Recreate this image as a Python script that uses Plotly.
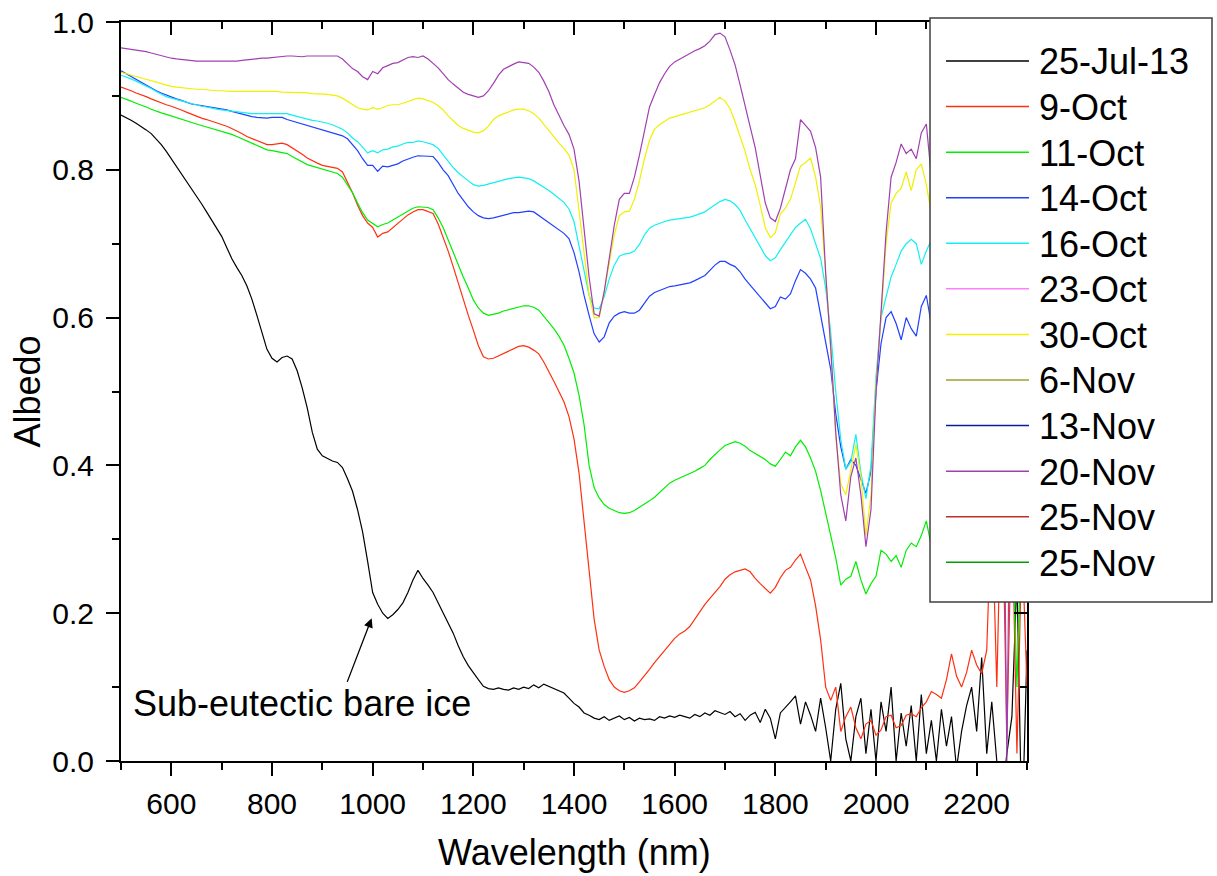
import plotly.graph_objects as go

# ---------------- data ----------------
wavelength = list(range(500, 2301, 10))  # nm

series_names = ["25-Jul-13", "9-Oct", "11-Oct", "14-Oct", "16-Oct", "23-Oct",
                "30-Oct", "6-Nov", "13-Nov", "20-Nov", "25-Nov", "25-Nov"]
series_colors = ["#000000", "#FF3010", "#00EE00", "#2040FF", "#10F0F0", "#FF80FF",
                 "#F0F000", "#A0A030", "#0A1A9A", "#A040B0", "#C0302A", "#00A000"]

alb_25jul13 = [
    0.874, 0.871, 0.867, 0.863, 0.859, 0.854, 0.849, 0.842, 0.834, 0.825,
    0.815, 0.805, 0.795, 0.784, 0.774, 0.764, 0.754, 0.743, 0.732, 0.721,
    0.710, 0.695, 0.680, 0.668, 0.657, 0.643, 0.625, 0.603, 0.580, 0.557,
    0.545, 0.540, 0.546, 0.548, 0.544, 0.528, 0.505, 0.478, 0.445, 0.422,
    0.413, 0.409, 0.406, 0.404, 0.397, 0.382, 0.365, 0.340, 0.310, 0.270,
    0.228, 0.212, 0.200, 0.193, 0.198, 0.205, 0.214, 0.228, 0.245, 0.258,
    0.247, 0.238, 0.228, 0.214, 0.200, 0.187, 0.173, 0.156, 0.141, 0.129,
    0.119, 0.110, 0.101, 0.098, 0.097, 0.099, 0.097, 0.096, 0.099, 0.097,
    0.100, 0.098, 0.103, 0.099, 0.104, 0.101, 0.097, 0.095, 0.092, 0.085,
    0.078, 0.073, 0.065, 0.062, 0.058, 0.056, 0.060, 0.055, 0.058, 0.061,
    0.056, 0.059, 0.054, 0.058, 0.056, 0.057, 0.055, 0.060, 0.058, 0.061,
    0.059, 0.062, 0.060, 0.058, 0.063, 0.060, 0.065, 0.062, 0.068, 0.066,
    0.063, 0.067, 0.060, 0.064, 0.055, 0.062, 0.066, 0.052, 0.070, 0.058,
    0.030, 0.065, 0.072, 0.080, 0.088, 0.050, 0.080, 0.062, 0.040, 0.085,
    0.045, 0.000, 0.070, 0.105, 0.030, 0.000, 0.060, 0.085, 0.010, 0.070,
    0.000, 0.080, 0.040, 0.100, 0.000, 0.065, 0.020, 0.075, 0.000, 0.090,
    0.010, 0.055, 0.000, 0.070, 0.020, 0.060, -0.010, 0.040, 0.075, 0.100,
    0.040, 0.140, 0.010, 0.080, 0.000, -0.050, 0.010, 0.060, 0.250, -0.100,
    0.150,
]

alb_9oct = [
    0.912, 0.910, 0.907, 0.904, 0.902, 0.899, 0.896, 0.893, 0.890, 0.888,
    0.886, 0.884, 0.881, 0.878, 0.875, 0.872, 0.870, 0.868, 0.866, 0.864,
    0.862, 0.859, 0.856, 0.853, 0.849, 0.845, 0.842, 0.839, 0.836, 0.834,
    0.834, 0.835, 0.836, 0.834, 0.830, 0.826, 0.821, 0.816, 0.812, 0.809,
    0.806, 0.805, 0.803, 0.802, 0.797, 0.783, 0.769, 0.752, 0.738, 0.728,
    0.722, 0.709, 0.714, 0.716, 0.722, 0.728, 0.734, 0.739, 0.743, 0.746,
    0.746, 0.744, 0.741, 0.727, 0.709, 0.690, 0.669, 0.646, 0.624, 0.603,
    0.583, 0.562, 0.547, 0.544, 0.545, 0.548, 0.551, 0.554, 0.558, 0.561,
    0.562, 0.560, 0.556, 0.551, 0.540, 0.528, 0.514, 0.500, 0.486, 0.466,
    0.436, 0.390, 0.325, 0.255, 0.192, 0.150, 0.128, 0.110, 0.100, 0.095,
    0.093, 0.095, 0.099, 0.107, 0.115, 0.124, 0.133, 0.141, 0.150, 0.158,
    0.166, 0.172, 0.176, 0.182, 0.192, 0.202, 0.212, 0.220, 0.228, 0.236,
    0.246, 0.252, 0.256, 0.258, 0.260, 0.256, 0.247, 0.240, 0.233, 0.227,
    0.235, 0.248, 0.258, 0.262, 0.272, 0.280, 0.262, 0.245, 0.210, 0.164,
    0.100, 0.082, 0.100, 0.040, 0.060, 0.073, 0.045, 0.030, 0.050, 0.055,
    0.035, 0.042, 0.060, 0.062, 0.045, 0.048, 0.062, 0.064, 0.060, 0.072,
    0.080, 0.094, 0.090, 0.085, 0.110, 0.145, 0.115, 0.100, 0.120, 0.150,
    0.130, 0.118, 0.150, 0.350, 0.100, 0.400, 0.030, 0.350, 0.010, 0.300,
    0.100,
]

alb_11oct = [
    0.898, 0.896, 0.893, 0.890, 0.888, 0.885, 0.882, 0.879, 0.877, 0.875,
    0.873, 0.871, 0.868, 0.866, 0.864, 0.862, 0.860, 0.858, 0.856, 0.855,
    0.853, 0.850, 0.848, 0.845, 0.842, 0.839, 0.836, 0.833, 0.830, 0.827,
    0.826, 0.825, 0.824, 0.822, 0.818, 0.814, 0.810, 0.807, 0.805, 0.803,
    0.800, 0.799, 0.797, 0.795, 0.790, 0.780, 0.769, 0.755, 0.742, 0.732,
    0.728, 0.723, 0.726, 0.728, 0.732, 0.736, 0.739, 0.743, 0.748, 0.750,
    0.750, 0.749, 0.746, 0.735, 0.722, 0.705, 0.687, 0.671, 0.655, 0.640,
    0.624, 0.613, 0.606, 0.603, 0.604, 0.606, 0.609, 0.611, 0.613, 0.615,
    0.616, 0.616, 0.614, 0.610, 0.602, 0.594, 0.585, 0.575, 0.563, 0.545,
    0.525, 0.495, 0.455, 0.400, 0.370, 0.356, 0.347, 0.342, 0.339, 0.336,
    0.335, 0.336, 0.339, 0.343, 0.347, 0.352, 0.357, 0.363, 0.370, 0.376,
    0.380, 0.383, 0.385, 0.388, 0.392, 0.396, 0.400, 0.408, 0.415, 0.421,
    0.427, 0.430, 0.432, 0.430, 0.426, 0.420, 0.416, 0.412, 0.408, 0.402,
    0.399, 0.408, 0.418, 0.413, 0.425, 0.434, 0.425, 0.410, 0.392, 0.366,
    0.335, 0.305, 0.275, 0.238, 0.246, 0.250, 0.270, 0.245, 0.226, 0.240,
    0.250, 0.285, 0.280, 0.270, 0.278, 0.262, 0.285, 0.295, 0.290, 0.305,
    0.325, 0.290, 0.300, 0.310, 0.300, 0.320, 0.310, 0.330, 0.320, 0.340,
    0.330, 0.350, 0.340, 0.360, 0.350, 0.330, 0.320, 0.340, 0.100, 0.330,
    0.300,
]

alb_14oct = [
    0.934, 0.930, 0.926, 0.922, 0.918, 0.914, 0.910, 0.907, 0.904, 0.901,
    0.898, 0.896, 0.894, 0.891, 0.889, 0.888, 0.887, 0.886, 0.885, 0.884,
    0.883, 0.881, 0.879, 0.877, 0.875, 0.873, 0.872, 0.871, 0.870, 0.870,
    0.871, 0.871, 0.871, 0.868, 0.866, 0.864, 0.862, 0.860, 0.858, 0.857,
    0.855, 0.853, 0.851, 0.849, 0.846, 0.842, 0.834, 0.826, 0.815, 0.806,
    0.806, 0.798, 0.805, 0.804, 0.806, 0.808, 0.812, 0.815, 0.817, 0.819,
    0.819, 0.818, 0.818, 0.810, 0.800, 0.792, 0.780, 0.768, 0.759, 0.750,
    0.743, 0.738, 0.735, 0.734, 0.735, 0.737, 0.739, 0.741, 0.742, 0.742,
    0.743, 0.744, 0.743, 0.738, 0.733, 0.728, 0.723, 0.718, 0.714, 0.707,
    0.688, 0.662, 0.630, 0.603, 0.578, 0.567, 0.574, 0.593, 0.602, 0.606,
    0.608, 0.606, 0.606, 0.610, 0.620, 0.629, 0.634, 0.637, 0.640, 0.642,
    0.643, 0.644, 0.645, 0.647, 0.650, 0.653, 0.657, 0.664, 0.671, 0.676,
    0.676, 0.672, 0.669, 0.662, 0.652, 0.644, 0.636, 0.628, 0.619, 0.612,
    0.615, 0.628, 0.625, 0.632, 0.650, 0.665, 0.660, 0.652, 0.640, 0.604,
    0.570, 0.530, 0.470, 0.425, 0.395, 0.408, 0.400, 0.382, 0.362, 0.392,
    0.500, 0.565, 0.600, 0.608, 0.592, 0.570, 0.600, 0.585, 0.575, 0.615,
    0.630, 0.590, 0.610, 0.600, 0.620, 0.630, 0.600, 0.590, 0.610, 0.600,
    0.580, 0.590, 0.570, 0.560, 0.550, 0.540, 0.520, 0.500, 0.480, 0.450,
    0.450,
]

alb_16oct = [
    0.928, 0.926, 0.923, 0.920, 0.917, 0.913, 0.910, 0.906, 0.902, 0.899,
    0.897, 0.895, 0.893, 0.891, 0.889, 0.887, 0.886, 0.885, 0.884, 0.882,
    0.881, 0.880, 0.879, 0.878, 0.877, 0.877, 0.876, 0.876, 0.876, 0.876,
    0.876, 0.877, 0.877, 0.876, 0.874, 0.872, 0.870, 0.868, 0.867, 0.866,
    0.865, 0.863, 0.861, 0.858, 0.855, 0.850, 0.843, 0.838, 0.830, 0.823,
    0.826, 0.823, 0.827, 0.828, 0.831, 0.832, 0.835, 0.837, 0.837, 0.839,
    0.838, 0.836, 0.834, 0.829, 0.820, 0.811, 0.803, 0.796, 0.790, 0.785,
    0.780, 0.778, 0.779, 0.781, 0.782, 0.784, 0.786, 0.788, 0.789, 0.790,
    0.789, 0.788, 0.785, 0.781, 0.777, 0.772, 0.767, 0.761, 0.756, 0.747,
    0.730, 0.697, 0.662, 0.630, 0.613, 0.612, 0.628, 0.652, 0.671, 0.683,
    0.686, 0.687, 0.690, 0.699, 0.712, 0.721, 0.725, 0.728, 0.730, 0.732,
    0.733, 0.733, 0.734, 0.736, 0.738, 0.740, 0.743, 0.748, 0.753, 0.757,
    0.760, 0.758, 0.753, 0.745, 0.732, 0.720, 0.708, 0.695, 0.684, 0.677,
    0.681, 0.692, 0.702, 0.712, 0.722, 0.728, 0.733, 0.720, 0.700, 0.680,
    0.640, 0.580, 0.500, 0.435, 0.395, 0.405, 0.442, 0.390, 0.355, 0.400,
    0.520, 0.600, 0.628, 0.655, 0.672, 0.690, 0.700, 0.706, 0.700, 0.672,
    0.690, 0.705, 0.700, 0.710, 0.690, 0.700, 0.680, 0.690, 0.670, 0.660,
    0.650, 0.640, 0.630, 0.620, 0.600, 0.580, 0.560, 0.540, 0.520, 0.500,
    0.500,
]

alb_30oct = [
    0.932, 0.930, 0.928, 0.926, 0.924, 0.922, 0.920, 0.918, 0.916, 0.914,
    0.913, 0.912, 0.911, 0.910, 0.910, 0.909, 0.909, 0.908, 0.908, 0.907,
    0.907, 0.906, 0.906, 0.906, 0.906, 0.906, 0.907, 0.907, 0.907, 0.907,
    0.906, 0.906, 0.905, 0.905, 0.905, 0.904, 0.904, 0.904, 0.903, 0.903,
    0.903, 0.902, 0.901, 0.900, 0.897, 0.893, 0.888, 0.884, 0.882, 0.881,
    0.884, 0.882, 0.884, 0.887, 0.888, 0.888, 0.890, 0.892, 0.895, 0.897,
    0.896, 0.894, 0.891, 0.887, 0.881, 0.873, 0.866, 0.860, 0.856, 0.853,
    0.851, 0.850, 0.853, 0.859, 0.868, 0.873, 0.876, 0.879, 0.881, 0.882,
    0.882, 0.880, 0.876, 0.870, 0.862, 0.853, 0.845, 0.836, 0.829, 0.820,
    0.800, 0.745, 0.685, 0.630, 0.600, 0.600, 0.635, 0.675, 0.712, 0.738,
    0.743, 0.744, 0.760, 0.785, 0.815, 0.840, 0.855, 0.861, 0.866, 0.870,
    0.872, 0.874, 0.876, 0.878, 0.880, 0.882, 0.884, 0.888, 0.893, 0.898,
    0.893, 0.883, 0.865, 0.845, 0.825, 0.800, 0.780, 0.752, 0.722, 0.708,
    0.715, 0.740, 0.748, 0.760, 0.782, 0.805, 0.810, 0.816, 0.790, 0.750,
    0.660, 0.560, 0.440, 0.375, 0.360, 0.392, 0.428, 0.385, 0.305, 0.360,
    0.510, 0.600, 0.700, 0.755, 0.768, 0.775, 0.797, 0.772, 0.800, 0.808,
    0.780, 0.740, 0.770, 0.790, 0.780, 0.770, 0.760, 0.750, 0.740, 0.730,
    0.720, 0.710, 0.700, 0.680, 0.660, 0.640, 0.620, 0.600, 0.580, 0.560,
    0.550,
]

alb_20nov = [
    0.965, 0.964, 0.963, 0.962, 0.961, 0.960, 0.958, 0.956, 0.955, 0.953,
    0.951, 0.950, 0.949, 0.948, 0.948, 0.947, 0.947, 0.947, 0.946, 0.946,
    0.947, 0.947, 0.947, 0.947, 0.948, 0.949, 0.950, 0.950, 0.951, 0.951,
    0.952, 0.953, 0.953, 0.954, 0.954, 0.953, 0.953, 0.954, 0.954, 0.955,
    0.955, 0.955, 0.955, 0.954, 0.950, 0.943, 0.937, 0.933, 0.926, 0.922,
    0.933, 0.930, 0.938, 0.941, 0.944, 0.945, 0.949, 0.952, 0.953, 0.952,
    0.954, 0.950, 0.944, 0.938, 0.930, 0.922, 0.916, 0.910, 0.905, 0.902,
    0.900, 0.898, 0.900, 0.907, 0.917, 0.928, 0.936, 0.940, 0.943, 0.946,
    0.945, 0.944, 0.939, 0.932, 0.920, 0.906, 0.888, 0.873, 0.860, 0.848,
    0.828, 0.785, 0.715, 0.655, 0.605, 0.602, 0.635, 0.680, 0.725, 0.760,
    0.768, 0.768, 0.790, 0.820, 0.855, 0.885, 0.902, 0.918, 0.930, 0.940,
    0.946, 0.950, 0.954, 0.957, 0.961, 0.964, 0.968, 0.974, 0.983, 0.985,
    0.980, 0.962, 0.942, 0.915, 0.885, 0.858, 0.830, 0.795, 0.755, 0.735,
    0.730, 0.748, 0.775, 0.800, 0.815, 0.868, 0.860, 0.852, 0.830, 0.790,
    0.660, 0.560, 0.445, 0.360, 0.325, 0.385, 0.410, 0.360, 0.290, 0.340,
    0.500, 0.600, 0.715, 0.790, 0.810, 0.835, 0.822, 0.828, 0.815, 0.850,
    0.862, 0.790, 0.800, 0.830, 0.820, 0.810, 0.800, 0.800, 0.790, 0.780,
    0.770, 0.760, 0.750, 0.730, 0.710, 0.690, 0.000, 0.650, 0.620, 0.600,
    0.580,
]

# drawn series (the other legend entries lie hidden underneath these curves)
drawn = [
    ("25-Jul-13", alb_25jul13, "#000000"),
    ("9-Oct", alb_9oct, "#FF3010"),
    ("11-Oct", alb_11oct, "#00EE00"),
    ("14-Oct", alb_14oct, "#2040FF"),
    ("16-Oct", alb_16oct, "#10F0F0"),
    ("30-Oct", alb_30oct, "#F0F000"),
    ("20-Nov", alb_20nov, "#A040B0"),
]

# ---------------- layout geometry (pixels) ----------------
W, H = 1217, 876
L, R, T, B = 121, 1027, 22, 761
PW, PH = R - L, B - T


def px_x(px):
    return (px - L) / PW


def px_y(py):
    return (B - py) / PH


FONT = "Liberation Sans, Arial, sans-serif"

fig = go.Figure()
for name, vals, color in drawn:
    fig.add_trace(go.Scatter(x=wavelength, y=vals, mode="lines", name=name,
                             line=dict(color=color, width=1.2),
                             showlegend=False, hoverinfo="x+y+name"))

# transparent copy bound to the mirror axes so that the top/right frame is drawn
fig.add_trace(go.Scatter(x=wavelength, y=alb_20nov, xaxis="x2", yaxis="y2",
                         mode="lines", line=dict(width=0, color="rgba(0,0,0,0)"),
                         showlegend=False, hoverinfo="skip"))

axis_common = dict(showline=True, linecolor="black", linewidth=2, mirror=False,
                   showgrid=False, zeroline=False, tickcolor="black", tickwidth=2,
                   ticklen=13, automargin=False)

fig.update_layout(
    width=W, height=H,
    margin=dict(l=L, r=W - R, t=T, b=H - B, pad=0, autoexpand=False),
    paper_bgcolor="white", plot_bgcolor="white",
    font=dict(family=FONT, color="black"),
    showlegend=False,
    xaxis=dict(range=[500, 2300], tick0=0, dtick=200, ticks="outside",
               tickfont=dict(size=30, family=FONT), ticklabelstandoff=2,
               minor=dict(dtick=100, tick0=0, ticks="outside", ticklen=7,
                          tickwidth=2, tickcolor="black"),
               **axis_common),
    yaxis=dict(range=[0, 1], tick0=0, dtick=0.2, tickformat=".1f", ticks="outside",
               tickfont=dict(size=30, family=FONT), ticklabelstandoff=6,
               minor=dict(dtick=0.1, tick0=0, ticks="outside", ticklen=7,
                          tickwidth=2, tickcolor="black"),
               title=dict(text="Albedo", font=dict(size=36, family=FONT), standoff=1),
               **axis_common),
    xaxis2=dict(range=[500, 2300], overlaying="x", side="top", anchor="y2",
                tick0=0, dtick=200, ticks="inside", showticklabels=False,
                minor=dict(dtick=100, tick0=0, ticks="inside", ticklen=7,
                           tickwidth=2, tickcolor="black"),
                **axis_common),
    yaxis2=dict(range=[0, 1], overlaying="y", side="right", anchor="x2",
                tick0=0, dtick=0.2, ticks="inside", showticklabels=False,
                minor=dict(dtick=0.1, tick0=0, ticks="inside", ticklen=7,
                           tickwidth=2, tickcolor="black"),
                **axis_common),
)

# ---------------- manual legend (long line samples as in the reference) ----------------
shapes = [dict(type="rect", xref="paper", yref="paper",
               x0=px_x(930), x1=px_x(1212), y0=px_y(602), y1=px_y(18),
               line=dict(color="#404040", width=1.5), fillcolor="white", layer="above")]
annotations = []
for i, (nm, col) in enumerate(zip(series_names, series_colors)):
    yy = 61 + i * 45.57
    shapes.append(dict(type="line", xref="paper", yref="paper",
                       x0=px_x(946), x1=px_x(1029), y0=px_y(yy), y1=px_y(yy),
                       line=dict(color=col, width=1.5), layer="above"))
    annotations.append(dict(xref="paper", yref="paper", x=px_x(1037), y=px_y(yy + 1),
                            xanchor="left", yanchor="middle", text=nm, showarrow=False,
                            font=dict(size=36, family=FONT, color="black")))

# ---------------- x-axis title ----------------
annotations.append(dict(xref="paper", yref="paper", x=0.5, y=px_y(852),
                        xanchor="center", yanchor="middle", text="Wavelength (nm)",
                        showarrow=False, font=dict(size=36, family=FONT, color="black")))

# ---------------- annotation with arrow ----------------
annotations.append(dict(xref="paper", yref="paper", x=px_x(131), y=px_y(703),
                        xanchor="left", yanchor="middle", text="Sub-eutectic bare ice",
                        showarrow=False, font=dict(size=36, family=FONT, color="black")))
annotations.append(dict(xref="x", yref="y", x=998, y=0.193, ax=-25, ay=65,
                        axref="pixel", ayref="pixel", text="", showarrow=True,
                        arrowhead=2, arrowsize=1.4, arrowwidth=1.3, arrowcolor="black",
                        standoff=0))

fig.update_layout(shapes=shapes, annotations=annotations)

fig.write_html("out.html")
